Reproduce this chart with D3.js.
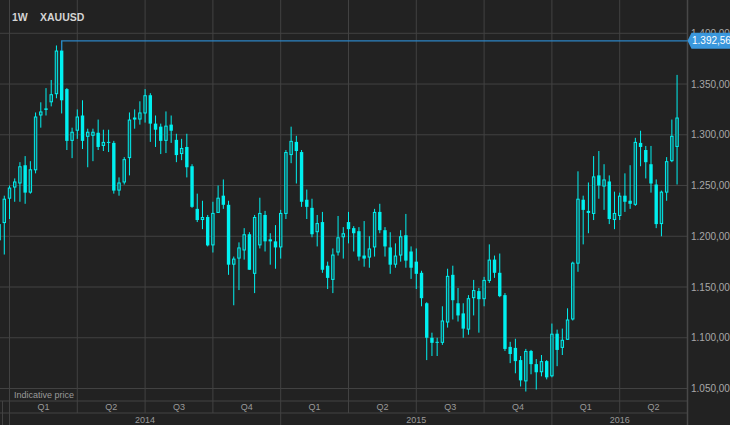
<!DOCTYPE html>
<html><head><meta charset="utf-8">
<script src="https://cdn.jsdelivr.net/npm/d3@7"></script>
<style>html,body{margin:0;padding:0;background:#222;overflow:hidden}</style>
</head><body><svg id="c" width="730" height="425"></svg>
<script>
// ---------- data ----------
const symbol = "XAUUSD";
const period = "1W";
const firstWeek = "2013-12-23";
const opens = [1196,1213,1237,1248,1252,1270,1243,1265,1319,1325,1332,1340,1383,1345,1294,1304,1319,1298,1299,1302,
1289,1293,1292,1245,1253,1277,1317,1315,1321,1339,1311,1308,1294,1310,1295,1281,1288,1269,1227,1216,
1219,1191,1223,1240,1231,1172,1178,1186,1202,1163,1191,1221,1197,1195,1189,1222,1280,1293,1283,1236,
1228,1204,1214,1171,1157,1184,1199,1214,1208,1205,1181,1179,1189,1224,1206,1189,1172,1181,1201,1185,
1175,1164,1134,1100,1096,1095,1115,1162,1134,1124,1108,1139,1146,1138,1156,1177,1164,1142,1091,1090,
1078,1057,1087,1074,1066,1077,1062,1104,1090,1098,1118,1173,1236,1225,1222,1260,1249,1254,1216,1220,
1240,1235,1231,1292,1285,1271,1251,1212,1243,1274,1288];
const highs = [1219,1240,1250,1257,1273,1279,1274,1322,1332,1346,1354,1388,1392.56,1346,1307,1325,1334,1306,1306,1315,
1305,1305,1294,1258,1278,1322,1325,1333,1345,1341,1319,1311,1323,1319,1301,1296,1301,1271,1242,1235,
1221,1234,1250,1256,1235,1180,1194,1208,1204,1221,1238,1225,1203,1211,1226,1285,1308,1299,1285,1246,
1237,1221,1224,1175,1188,1220,1209,1224,1210,1209,1215,1200,1227,1232,1209,1204,1193,1206,1222,1190,
1188,1166,1135,1105,1100,1131,1168,1171,1149,1134,1142,1157,1149,1160,1192,1181,1183,1144,1096,1099,
1082,1089,1088,1079,1083,1078,1114,1108,1109,1129,1175,1264,1240,1253,1279,1284,1271,1260,1244,1243,
1262,1270,1297,1304,1289,1289,1256,1245,1278,1315,1359];
const lows = [1186,1182,1217,1234,1234,1232,1242,1262,1307,1319,1328,1336,1321,1285,1277,1296,1286,1268,1274,1285,
1284,1283,1242,1240,1251,1260,1306,1310,1312,1293,1288,1281,1282,1292,1273,1275,1258,1228,1214,1207,
1190,1184,1223,1227,1162,1132,1147,1177,1167,1144,1188,1185,1172,1168,1178,1217,1272,1252,1229,1217,
1199,1190,1164,1148,1144,1181,1178,1193,1185,1176,1170,1169,1180,1203,1180,1163,1169,1175,1169,1158,
1148,1131,1078,1082,1082,1093,1110,1118,1116,1100,1103,1122,1105,1131,1154,1159,1140,1087,1075,1065,
1052,1047,1064,1049,1062,1059,1061,1072,1083,1098,1117,1165,1192,1203,1216,1237,1226,1212,1207,1216,
1224,1227,1230,1269,1257,1243,1208,1200,1235,1273,1251];
const closes = [1212,1237,1248,1254,1269,1243,1266,1318,1323,1326,1340,1383,1334,1294,1303,1318,1294,1303,1303,1288,
1293,1292,1245,1253,1276,1315,1315,1322,1339,1311,1305,1294,1309,1304,1280,1287,1268,1229,1216,1219,
1191,1223,1238,1231,1172,1178,1189,1202,1167,1219,1223,1195,1195,1189,1223,1283,1294,1284,1234,1229,
1202,1213,1167,1159,1182,1199,1203,1207,1203,1180,1178,1188,1224,1206,1190,1172,1181,1200,1176,1169,
1163,1139,1100,1095,1095,1117,1161,1137,1122,1109,1139,1147,1138,1157,1177,1164,1141,1089,1084,1077,
1058,1087,1074,1066,1077,1061,1104,1088,1098,1118,1174,1237,1226,1223,1259,1250,1256,1217,1223,1240,
1234,1232,1293,1288,1273,1252,1212,1244,1274,1299,1317];
const yTicks = [1050,1100,1150,1200,1250,1300,1350,1400];
const quarterStarts = ["2014-01-06","2014-04-07","2014-07-07","2014-10-06","2015-01-05","2015-04-06",
  "2015-07-06","2015-10-05","2016-01-04","2016-04-04","2016-07-04"];
const quarterLabels = ["Q1","Q2","Q3","Q4","Q1","Q2","Q3","Q4","Q1","Q2"];
const yearLabels = ["2014","2015","2016"];
const yearStarts = ["2014-01-06","2015-01-05","2016-01-04","2016-07-04"];
const markerValue = 1392.56;
const footnote = "Indicative price";

// ---------- setup ----------
const W = 730, H = 425;
const plotRight = 687.5, plotBottom = 401, qRowBottom = 413;
const cyan = "#00f0f0", gridCol = "#424242", textCol = "#a8a8a8";
const parse = d3.utcParse("%Y-%m-%d");
const loc = d3.formatLocale({decimal: ",", thousands: ".", grouping: [3], currency: ["", ""]});
const fmt = loc.format(",.2f");

const svg = d3.select("#c");
svg.append("rect").attr("width", W).attr("height", H).attr("fill", "#222222");

const x = d3.scaleUtc().domain([parse(quarterStarts[0]), parse(quarterStarts[quarterStarts.length-1])]).range([9.5, plotRight]);
const y = d3.scaleLinear().domain([1050, 1400]).range([388.5, 33.3]);

const start = parse(firstWeek);
const data = opens.map((o, i) => ({
  date: d3.utcMonday.offset(start, i), o, h: highs[i], l: lows[i], c: closes[i]
}));

const f = "'Liberation Sans', Arial, sans-serif";

// grid
const g = svg.append("g");
g.selectAll("line.h").data(yTicks).join("line")
  .attr("x1", 0).attr("x2", plotRight).attr("y1", d => y(d)).attr("y2", d => y(d))
  .attr("stroke", gridCol).attr("stroke-width", 1);
g.selectAll("line.v").data(quarterStarts.slice(0, -1)).join("line")
  .attr("x1", d => x(parse(d))).attr("x2", d => x(parse(d)))
  .attr("y1", 0).attr("y2", qRowBottom)
  .attr("stroke", gridCol).attr("stroke-width", 1);
// bottom rows
[plotBottom, qRowBottom].forEach(yy => g.append("line").attr("x1", 0).attr("x2", plotRight)
  .attr("y1", yy).attr("y2", yy).attr("stroke", gridCol).attr("stroke-width", 1));
g.selectAll("line.yr").data(yearStarts).join("line")
  .attr("x1", d => x(parse(d))).attr("x2", d => x(parse(d)))
  .attr("y1", qRowBottom).attr("y2", H).attr("stroke", gridCol).attr("stroke-width", 1);
g.append("line").attr("x1", 2.5).attr("x2", 2.5).attr("y1", plotBottom).attr("y2", H)
  .attr("stroke", gridCol).attr("stroke-width", 1);
// right separator
g.append("line").attr("x1", plotRight).attr("x2", plotRight).attr("y1", 0).attr("y2", H)
  .attr("stroke", "#484848").attr("stroke-width", 1.5);

// quarter labels
svg.selectAll("text.q").data(quarterLabels).join("text")
  .attr("x", (d, i) => (x(parse(quarterStarts[i])) + x(parse(quarterStarts[i+1]))) / 2)
  .attr("y", 410).attr("text-anchor", "middle")
  .attr("font-family", f).attr("font-size", 9).attr("fill", "#9a9a9a").text(d => d);
svg.selectAll("text.yr").data(yearLabels).join("text")
  .attr("x", (d, i) => (x(parse(yearStarts[i])) + x(parse(yearStarts[i+1]))) / 2)
  .attr("y", 422.5).attr("text-anchor", "middle")
  .attr("font-family", f).attr("font-size", 9).attr("fill", "#9a9a9a").text(d => d);
svg.append("text").attr("x", 14).attr("y", 398).attr("font-family", f).attr("font-size", 9)
  .attr("fill", "#9a9a9a").text(footnote);

// y axis labels
const yAxis = d3.axisRight(y).tickValues(yTicks).tickFormat(fmt).tickSize(0).tickPadding(0);
const ya = svg.append("g").attr("transform", `translate(691,0)`).call(yAxis);
ya.select(".domain").remove();
ya.selectAll("text").attr("font-family", f).attr("font-size", 10).attr("fill", textCol);

// title
svg.append("text").attr("x", 12).attr("y", 21).attr("font-family", f).attr("font-size", 10.5)
  .attr("font-weight", "bold").attr("fill", "#d4d4d4").text(period);
svg.append("text").attr("x", 40).attr("y", 21).attr("font-family", f).attr("font-size", 10.5)
  .attr("font-weight", "bold").attr("fill", "#d4d4d4").text(symbol);

// candles
const bw = 3.4;
const cg = svg.append("g");
data.forEach(d => {
  const cx = x(d.date);
  cg.append("line").attr("x1", cx).attr("x2", cx).attr("y1", y(d.h)).attr("y2", y(d.l))
    .attr("stroke", cyan).attr("stroke-width", 1);
  const top = y(Math.max(d.o, d.c)), bot = y(Math.min(d.o, d.c));
  if (d.c >= d.o) {
    cg.append("rect").attr("x", cx - bw/2 + 0.5).attr("width", bw - 1)
      .attr("y", top + 0.5).attr("height", Math.max(bot - top - 1, 0.5))
      .attr("fill", "#1a4f50").attr("stroke", cyan).attr("stroke-width", 1);
  } else {
    cg.append("rect").attr("x", cx - bw/2).attr("width", bw)
      .attr("y", top).attr("height", Math.max(bot - top, 1)).attr("fill", cyan);
  }
});

// marker line at the high
const peak = data.reduce((a, b) => (b.h > a.h ? b : a));
const my = y(markerValue);
svg.append("path")
  .attr("d", `M${x(peak.date)},${y(Math.max(peak.o, peak.c))}V${my}H${plotRight}`)
  .attr("fill", "none").attr("stroke", "#2d84c4").attr("stroke-width", 1.2);
svg.append("path")
  .attr("d", `M${plotRight},${my}L${plotRight+4},${my-8}H${W}V${my+8}H${plotRight+4}Z`)
  .attr("fill", "#3a97dc");
svg.append("text").attr("x", 692).attr("y", my).attr("dy", "0.35em")
  .attr("font-family", f).attr("font-size", 10).attr("fill", "#ffffff").text(fmt(markerValue));
</script></body></html>
